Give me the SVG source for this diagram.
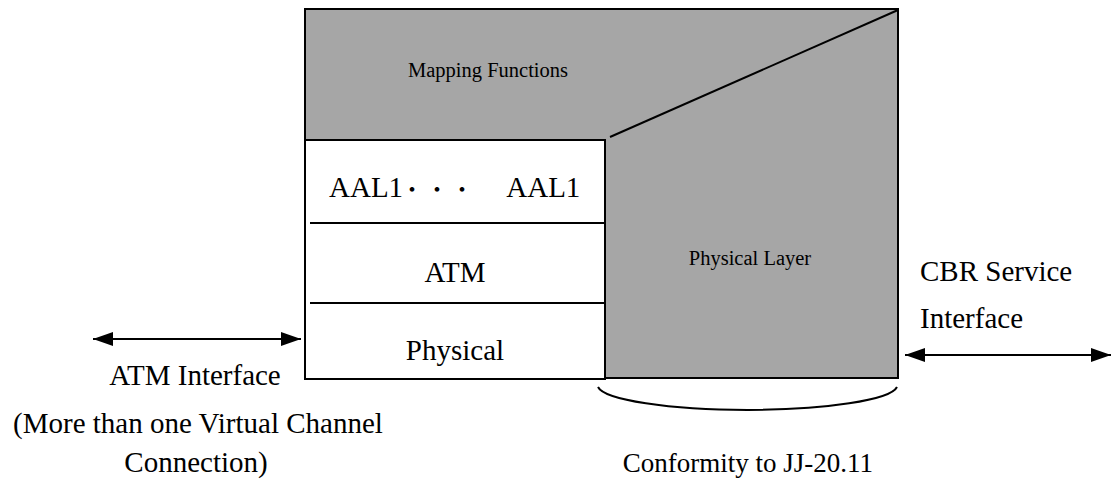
<svg xmlns="http://www.w3.org/2000/svg" width="1112" height="479" viewBox="0 0 1112 479">
<style>
text{font-family:"Liberation Serif","Times New Roman","Noto Sans CJK JP",serif;fill:#000}
.big{font-size:29px}
.small{font-size:20.5px}
.ln{stroke:#000;stroke-width:2;fill:none}
.dot{font-family:"Noto Sans CJK JP",sans-serif;font-size:22px}
</style>
<defs>
<marker id="ahb" viewBox="0 0 20 14" markerWidth="20" markerHeight="14" refX="20" refY="7" orient="auto-start-reverse" markerUnits="userSpaceOnUse">
<path d="M0,0 L20,7 L0,14 Z" fill="#000"/>
</marker>
</defs>
<g id="mapping-physical">
<rect x="305" y="9" width="593" height="369" fill="#a6a6a6" stroke="#000" stroke-width="2"/>
<line x1="610" y1="137" x2="898" y2="10" class="ln"/>
<text class="small" x="488" y="77" text-anchor="middle">Mapping Functions</text>
<text class="small" x="750" y="265" text-anchor="middle">Physical Layer</text>
</g>
<g id="stack">
<rect x="305" y="140" width="300" height="239" fill="#fff" stroke="#000" stroke-width="2"/>
<line x1="310" y1="223" x2="605" y2="223" class="ln"/>
<line x1="310" y1="303" x2="605" y2="303" class="ln"/>
<text class="big" x="329" y="197">AAL1<tspan class="dot" x="401">・</tspan><tspan class="dot" x="426">・</tspan><tspan class="dot" x="451">・</tspan><tspan x="499"> AAL1</tspan></text>
<text class="big" x="455" y="282" text-anchor="middle">ATM</text>
<text class="big" x="455" y="360" text-anchor="middle">Physical</text>
</g>
<g id="atm-interface">
<text class="big" x="195" y="385" text-anchor="middle">ATM Interface</text>
<text class="big" x="198" y="433" text-anchor="middle">(More than one Virtual Channel</text>
<text class="big" x="196" y="472" text-anchor="middle">Connection)</text>
</g>
<g id="cbr-interface">
<text class="big" x="920" y="281">CBR Service</text>
<text class="big" x="920" y="328">Interface</text>
</g>
<g id="conformity">
<path d="M598,387 A150,25 0 0 0 897,387" class="ln"/>
<text class="big" x="748" y="472" text-anchor="middle" style="font-size:27px">Conformity to JJ-20.11</text>
</g>
<g id="connectors">
<line x1="93" y1="339" x2="301" y2="339" class="ln" marker-start="url(#ahb)" marker-end="url(#ahb)"/>
<line x1="905" y1="355" x2="1111" y2="355" class="ln" marker-start="url(#ahb)" marker-end="url(#ahb)"/>
</g>
</svg>
